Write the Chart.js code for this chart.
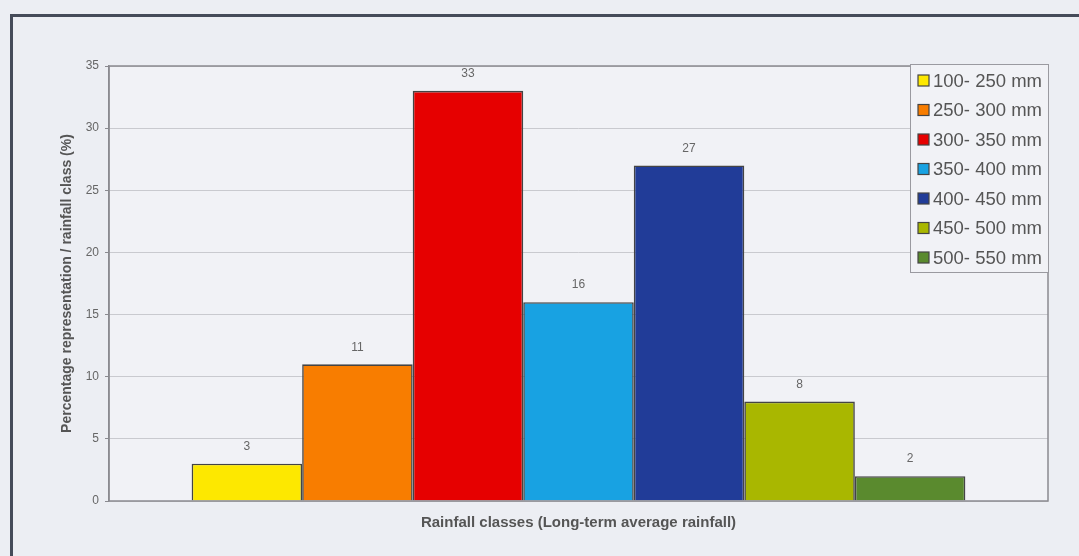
<!DOCTYPE html>
<html>
<head>
<meta charset="utf-8">
<script src="https://cdn.jsdelivr.net/npm/chart.js@4.4.0/dist/chart.umd.min.js"></script>
<style>
  html, body { margin: 0; padding: 0; background: #eceef3; }
  #wrap { position: relative; width: 1079px; height: 556px; }
  canvas { display: block; }
</style>
</head>
<body>
<div id="wrap"><canvas id="c" width="1079" height="556"></canvas></div>
<script>
const categories = ['Rainfall classes'];
const classLabels = ['100- 250 mm', '250- 300 mm', '300- 350 mm', '350- 400 mm', '400- 450 mm', '450- 500 mm', '500- 550 mm'];
const classValues = [3, 11, 33, 16, 27, 8, 2];
const classColors = ['#fde800', '#f87d00', '#e60000', '#18a2e2', '#213c98', '#a9b700', '#5a8a2e'];
const yTicks = [0, 5, 10, 15, 20, 25, 30, 35];

const FONT = '"Liberation Sans", Arial, Helvetica, sans-serif';

const datasets = classLabels.map((lab, i) => ({
  label: lab,
  data: [classValues[i]],
  backgroundColor: classColors[i],
  borderColor: '#444444',
  borderWidth: 1.6,
  barPercentage: 1.0,
  categoryPercentage: 0.824
}));

const framePlugin = {
  id: 'frame',
  beforeDraw(chart) {
    const ctx = chart.ctx;
    const a = chart.chartArea;
    ctx.save();
    ctx.fillStyle = '#eceef3';
    ctx.fillRect(0, 0, chart.width, chart.height);
    // outer frame
    ctx.strokeStyle = '#454b59';
    ctx.lineWidth = 3;
    ctx.beginPath();
    ctx.moveTo(11.5, chart.height + 5);
    ctx.lineTo(11.5, 15.5);
    ctx.lineTo(chart.width + 5, 15.5);
    ctx.stroke();
    // plot background
    ctx.fillStyle = '#f1f2f6';
    ctx.fillRect(a.left, a.top, a.right - a.left, a.bottom - a.top);
    ctx.restore();
  },
  afterDatasetsDraw(chart) {
    const ctx = chart.ctx;
    const a = chart.chartArea;
    ctx.save();
    ctx.strokeStyle = '#8a8a90';
    ctx.lineWidth = 1.5;
    ctx.strokeRect(a.left, a.top, a.right - a.left, a.bottom - a.top);
    // value labels
    ctx.fillStyle = '#666666';
    ctx.font = '12px ' + FONT;
    ctx.textAlign = 'center';
    ctx.textBaseline = 'middle';
    chart.data.datasets.forEach((ds, i) => {
      const meta = chart.getDatasetMeta(i);
      meta.data.forEach((el, j) => {
        ctx.fillText(String(ds.data[j]), el.x, el.y - 17);
      });
    });
    // legend box
    const lx = 910, ly = 64, lw = 138, lh = 208;
    ctx.fillStyle = '#f1f2f6';
    ctx.fillRect(lx, ly, lw, lh);
    ctx.strokeStyle = '#9a9aa0';
    ctx.lineWidth = 1;
    ctx.strokeRect(lx + 0.5, ly + 0.5, lw, lh);
    ctx.font = '18.5px ' + FONT;
    ctx.textAlign = 'left';
    chart.data.datasets.forEach((ds, i) => {
      const cy = 80.5 + i * 29.5;
      ctx.fillStyle = ds.backgroundColor;
      ctx.fillRect(918, cy - 5.5, 11, 11);
      ctx.strokeStyle = '#444444';
      ctx.lineWidth = 1.2;
      ctx.strokeRect(918, cy - 5.5, 11, 11);
      ctx.fillStyle = '#555555';
      ctx.fillText(ds.label, 933, cy + 1);
    });
    ctx.restore();
  }
};

new Chart(document.getElementById('c'), {
  type: 'bar',
  data: { labels: categories, datasets },
  options: {
    responsive: false,
    animation: false,
    devicePixelRatio: 1,
    layout: { padding: { top: 66, right: 31, left: 0, bottom: 0 } },
    plugins: { legend: { display: false }, tooltip: { enabled: false } },
    scales: {
      x: {
        grid: { display: false, drawTicks: false },
        border: { display: false },
        ticks: { display: false },
        title: {
          display: true,
          text: 'Rainfall classes (Long-term average rainfall)',
          color: '#555555',
          font: { family: FONT, size: 15, weight: 'bold' },
          padding: { top: 0, bottom: 24 }
        },
        afterFit(s) { s.height = 55; }
      },
      y: {
        min: 0, max: 35,
        afterBuildTicks(s) { s.ticks = yTicks.map(v => ({ value: v })); },
        grid: { color: '#c9cacf', lineWidth: 1, tickLength: 4, tickColor: '#8a8a90' },
        border: { display: true, color: '#8a8a90', width: 1.5 },
        ticks: { color: '#666666', font: { family: FONT, size: 12 }, padding: 6 },
        title: {
          display: true,
          text: 'Percentage representation / rainfall class (%)',
          color: '#555555',
          font: { family: FONT, size: 14, weight: 'bold' },
          padding: { top: 59, bottom: 0 }
        },
        afterFit(s) { s.width = 109; }
      }
    }
  },
  plugins: [framePlugin]
});
</script>
</body>
</html>
